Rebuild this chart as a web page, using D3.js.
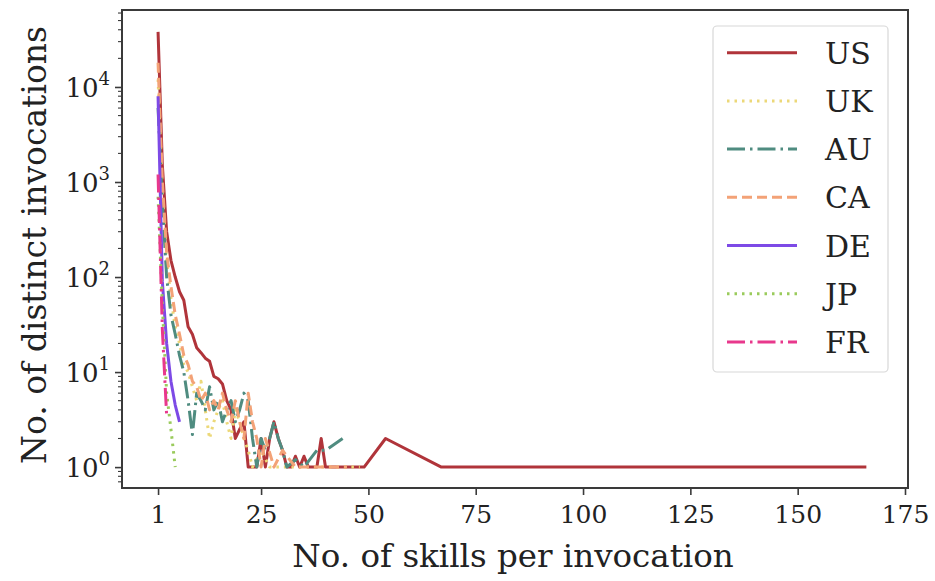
<!DOCTYPE html>
<html><head><meta charset="utf-8">
<script src="https://cdn.jsdelivr.net/npm/d3@7"></script>
<style>body{margin:0;background:#fff}</style>
</head><body>
<svg id="c" width="935" height="581"></svg>
<script>
const countries = ["US","UK","AU","CA","DE","JP","FR"];
const colors = ["#b0343a","#ecd878","#4f8c80","#f3a277","#7d4ae6","#9acb5c","#e8388c"];
const dashes = ["none","2.5,5","18,5,2.5,5","10,5","none","2.5,5","18,5,2.5,5"];
const xTicks = [1,25,50,75,100,125,150,175];
const yTicks = [1,10,100,1000,10000];
const yTickExp = ["0","1","2","3","4"];

const usX = [1,2,3,4,5,6,7,8,9,10,11,12,13,14,15,16,17,18,19,20,21,22,23,24,25,26,27,28,29,30,31,32,33,34,35,36,37,38,39,40,49,54,67,166];
const usY = [38000,1500,300,150,100,70,57,30,25,18,16,14,13,9,8.5,7.5,5,4,2,2.5,3,1,1,1,2,1,2,3,2,1.5,1,1,1.3,1,1.3,1,1,1,2,1,1,2,1,1];
const ukX = [1,2,3,4,5,6,7,8,9,10,11,12,13,14,15,16,17,18,19,20,21,22,23,25,27,30,48];
const ukY = [12000,800,150,60,30,20,12,10,7,5,8,4,2,3,4,5,3,2,4,3,2,1.5,1,1.5,1,1,1];
const auX = [1,2,3,4,5,6,7,8,9,10,11,12,13,14,15,16,17,18,19,20,21,22,23,24,25,26,27,28,29,30,31,33,35,38,40,44];
const auY = [6000,600,100,40,25,15,10,5,2.2,6,5,4,7,4,5,3,4,5,3,4,6,5,2,1,2,1.5,2,3,2,1.5,1,1.2,1,1.5,1.5,2];
const caX = [1,2,3,4,5,6,7,8,9,10,11,12,13,14,15,16,17,18,19,20,21,22,23,24,25,26,28,30,33,45];
const caY = [18000,1000,180,80,40,25,15,12,8,7,5,6,4,5,4,6,4,3,5,3,2,6,3,2,1,2,1,1.5,1,1];
const deX = [1,2,3,4,5,6];
const deY = [8000,90,20,8,4.5,3];
const jpX = [1,2,3,4,5];
const jpY = [700,50,6,2.5,1];
const frX = [1,2,3];
const frY = [1200,28,3.5];

const seriesX = [usX,ukX,auX,caX,deX,jpX,frX];
const seriesY = [usY,ukY,auY,caY,deY,jpY,frY];

const L=122,R=908,T=10,B=488;
const svg = d3.select("#c");
const font = "'DejaVu Serif',serif";
const x = d3.scaleLinear().domain([-7.4,175.7]).range([L,R]);
const y = d3.scaleLog().domain([Math.pow(10,-0.22),Math.pow(10,4.81)]).range([B,T]);

svg.append("defs").append("clipPath").attr("id","clip")
  .append("rect").attr("x",L).attr("y",T).attr("width",R-L).attr("height",B-T);

const line = d3.line().x(d=>x(d[0])).y(d=>y(d[1]));
const g = svg.append("g").attr("clip-path","url(#clip)");
countries.forEach((c,i)=>{
  const pts = seriesX[i].map((v,j)=>[v,seriesY[i][j]]);
  g.append("path").attr("d",line(pts)).attr("fill","none")
   .attr("stroke",colors[i]).attr("stroke-width",3)
   .attr("stroke-dasharray",dashes[i]).attr("stroke-linejoin","round");
});

const axisColor="#3a3a3a";
const xa = svg.append("g").attr("transform",`translate(0,${B})`)
  .call(d3.axisBottom(x).tickValues(xTicks).tickSize(7).tickFormat(d3.format("d")));
xa.select(".domain").remove();
xa.selectAll("line").attr("stroke",axisColor).attr("stroke-width",1.6);
xa.selectAll("text").attr("font-family",font).attr("font-size",25).attr("fill","#222").attr("dy","1.0em");

const ya = svg.append("g").attr("transform",`translate(${L},0)`)
  .call(d3.axisLeft(y).tickValues(yTicks).tickSize(7).tickFormat(""));
ya.select(".domain").remove();
ya.selectAll("line").attr("stroke",axisColor).attr("stroke-width",1.6);
const minors=[];
for(let k=-1;k<=4;k++) for(let m=2;m<=9;m++){const v=m*Math.pow(10,k); if(v>y.domain()[0]&&v<y.domain()[1]) minors.push(v);}
svg.append("g").selectAll("line").data(minors).join("line")
  .attr("x1",L-4).attr("x2",L).attr("y1",d=>y(d)).attr("y2",d=>y(d))
  .attr("stroke",axisColor).attr("stroke-width",1.1);
yTicks.forEach((v,i)=>{
  const t = svg.append("text").attr("x",L-12).attr("y",y(v)+10).attr("text-anchor","end")
    .attr("font-family",font).attr("font-size",26).attr("fill","#222");
  t.append("tspan").text("10");
  t.append("tspan").attr("font-size",18).attr("dy",-12).text(yTickExp[i]);
});

svg.append("rect").attr("x",L).attr("y",T).attr("width",R-L).attr("height",B-T)
  .attr("fill","none").attr("stroke",axisColor).attr("stroke-width",2);

svg.append("text").attr("x",(L+R)/2-2).attr("y",567).attr("text-anchor","middle")
  .attr("font-family",font).attr("font-size",32.5).attr("fill","#222").text("No. of skills per invocation");
svg.append("text").attr("transform",`translate(46,${(T+B)/2-4}) rotate(-90)`).attr("text-anchor","middle")
  .attr("font-family",font).attr("font-size",33).attr("fill","#222").text("No. of distinct invocations");

const lg = svg.append("g");
lg.append("rect").attr("x",713).attr("y",26).attr("width",175).attr("height",346).attr("rx",4)
  .attr("fill","#fff").attr("fill-opacity",0.85).attr("stroke","#d8d8d8").attr("stroke-width",1.2);
countries.forEach((c,i)=>{
  const yy = 52.7+48.2*i;
  lg.append("line").attr("x1",727).attr("x2",797).attr("y1",yy).attr("y2",yy)
    .attr("stroke",colors[i]).attr("stroke-width",3).attr("stroke-dasharray",dashes[i]);
  lg.append("text").attr("x",825).attr("y",yy+11).attr("font-family",font).attr("font-size",30)
    .attr("fill","#222").text(c);
});
</script>
</body></html>
